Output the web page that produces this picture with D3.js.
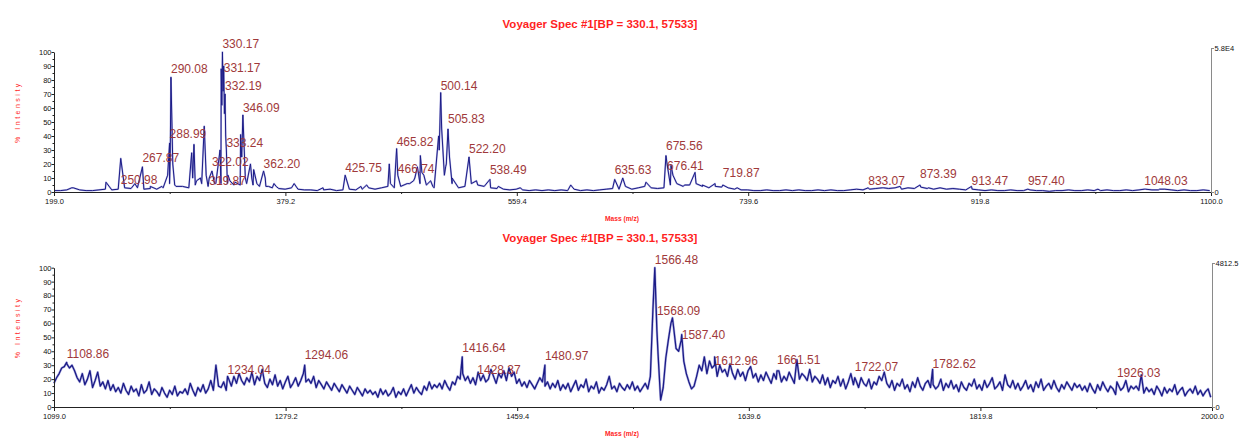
<!DOCTYPE html>
<html><head><meta charset="utf-8">
<script src="https://cdn.jsdelivr.net/npm/d3@7"></script>
<style>
body{margin:0;background:#fff}
svg{display:block}
text{font-family:"Liberation Sans",Arial,sans-serif}
</style>
</head><body>
<svg id="chart" width="1243" height="441"></svg>
<script>
// ---------- shared text ----------
const titleText = "Voyager Spec #1[BP = 330.1, 57533]";
const xAxisTitle = "Mass (m/z)";
const yAxisTitle = "% Intensity";
const yTicks = [0, 10, 20, 30, 40, 50, 60, 70, 80, 90, 100];

// ---------- spectrum 1 : m/z 199 - 1100 ----------
const xTicks1 = [199.0, 379.2, 559.4, 739.6, 919.8, 1100.0];
const baseStart1 = 199, baseStep1 = 5;
const base1 = [
  1,1,1.5,3,1.5,1,1,1.5,2,1.5,
  2,3,2.5,3,2,2.5,2,3,6,4,
  4,3,5,6,4,6,6,6,5,5,
  6,5,4,4,3,2.5,2,3,2,1.5,
  1.5,1,1.5,2,1,1.5,2,1.5,2,3,
  2,3,4,3,4,6,8,6,5,4,
  30,18,6,3,4,6,5,4,3,2.5,
  2,1.5,2,1.5,1,1.5,1,1.5,1,1.5,
  1,2,1,1.5,1,1.5,2,2.5,2,4,
  2,3,4,3,2.5,3,5,6,4,5,
  6,4,3,4,3.5,3,2,1.5,1.5,1,
  1,1.5,1,1,1.5,1,1.5,1,1,1.5,
  1,1.5,1,1,1.5,2,1.5,2,2.5,3,
  2.5,3,2,3,2.5,3.5,2.5,2,3,2,
  2.5,2,1.5,2,1.5,1,1.5,1,1,1.5,
  1,1,1.5,1,1,0.5,1,1,1.5,1,
  1,1.5,1,1,1.5,1,1,1.5,1,1.5,
  2,1.5,1.5,2,1.5,1,1.5,1,1,1.5,
  1
];
const peaks1 = [
  [212.8,3],[239.5,7],[262,6],[274,4],[283,4],[287.5,12],[289.5,25],[291.5,20],[293,5],
  [306.2,28],[307,10],[308,34],[310,8],[313,10],[316,47],[317.5,12],[325,6],
  [328.3,30],[329.2,88],[329.7,62],[330.7,72],[331.7,56],[332.7,40],
  [334.5,12],[336,8],[340,7],[344.3,41],[345.2,25],[348,10],[352,20],[353,10],[354.5,16],
  [357,6],[363.5,10],[366,4],[370.3,6],[372,4],[386,6],[408.5,3],[438,4],[442.5,5],
  [460.1,20],[461,6],[476,6],[480,10],[482,18],[484.3,26],[485.5,14],[487,12],[492.3,8],
  [495,3],[498.5,40],[500.9,45],[503,12],[504.5,20],[507,25],[509,10],[528,8],[545,4],
  [562,3],[601.4,5],[641.9,10],[660,7],[679.5,19],[681,12],[690,5],[698.2,14],[704,5],
  [713.8,6],[731,3],[845,3],[857.9,4],[880,3],[889,3],[1012,2],[1060,2]
];
const labelMz1 = [250.98,267.87,288.99,290.08,319.87,322.02,330.17,331.17,332.19,333.24,
  346.09,362.20,425.75,465.82,466.74,500.14,505.83,522.20,538.49,635.63,675.56,676.41,
  719.87,833.07,873.39,913.47,957.40,1048.03];
const labelPeak1 = [24,18,35,82,10,15,100,90,70,30,55,15,12,31,12,71,45,25,9,9,26,20,5,3,5,4,2,2];
const labelLevel1 = [6,21.6,38.6,85,5,18.6,103,86,73,32,57,17,14.5,33,13.8,73,49,27.6,12.9,
  12.9,30,15.7,10.5,5,9.8,5,5,5];
const rightMax1 = 58000, rightLabel1 = "5.8E4";

// ---------- spectrum 2 : m/z 1099 - 2000 ----------
const xTicks2 = [1099.0, 1279.2, 1459.4, 1639.6, 1819.8, 2000.0];
const baseStart2 = 1099, baseStep2 = 2;
const base2 = [
  17,21,24,28,29,31,28,30,26,21,18,24,16,20,26,14,19,25,15,18,13,19,12,16,11,
  14,10,17,12,9,15,11,13,8,16,10,12,18,9,13,11,8,14,10,7,12,9,15,8,11,
  10,13,9,17,12,8,14,11,16,10,13,19,12,30,15,14,18,12,20,15,22,17,24,19,16,
  21,18,25,16,22,19,27,17,14,20,16,23,15,19,13,18,22,14,17,21,15,19,24,18,20,
  17,22,14,19,16,13,18,15,12,17,14,11,16,13,10,15,12,9,14,11,8,13,10,12,9,
  11,7,13,9,12,8,10,14,7,11,9,13,8,12,16,10,14,11,9,15,12,18,13,16,14,
  17,13,19,15,12,18,16,22,20,24,19,22,17,21,16,25,19,23,18,20,27,22,17,24,21,
  26,19,28,22,25,17,20,15,18,14,19,16,13,17,21,18,15,18,13,17,14,19,12,16,13,
  17,11,15,19,12,16,14,20,11,15,13,18,10,14,12,16,22,13,15,11,17,14,12,16,13,
  18,12,15,11,14,17,13,22,70,85,38,5,14,35,48,60,58,42,40,48,33,24,18,13,15,
  22,30,26,36,24,33,28,36,22,30,25,27,22,31,24,20,27,22,25,19,26,29,21,24,18,
  23,19,25,21,17,24,20,26,18,22,19,25,21,17,34,20,24,22,19,27,18,22,20,17,23,
  16,21,14,19,17,22,15,20,13,18,24,16,19,14,21,17,15,20,13,18,16,22,19,25,17,
  14,19,12,17,15,20,13,16,11,18,14,21,15,12,17,19,14,16,13,15,20,12,17,14,19,
  13,16,11,18,14,12,17,15,20,13,16,12,19,14,17,21,13,15,18,12,23,16,14,19,13,
  17,12,15,19,13,16,11,18,14,20,12,15,17,13,19,14,11,16,13,18,15,12,17,14,16,
  12,15,11,17,13,10,16,12,18,14,11,15,13,9,16,12,14,19,11,15,13,15,12,23,10,
  14,11,13,9,15,12,8,14,10,13,11,16,9,12,14,8,11,13,10,15,9,12,8,11,13,
  7
];
const peaks2 = [[1580.2,64]];
const labelMz2 = [1108.86,1234.04,1294.06,1416.64,1428.37,1480.97,1566.48,1568.09,1587.40,
  1612.96,1661.51,1722.07,1782.62,1926.03];
const labelPeak2 = [32,22,30,36,22,30,100,55,52,30,26,21,27,18];
const labelLevel2 = [35,24,34.5,39.7,23.7,33.7,103,66,49,30,31,26,27.8,21.3];
const rightMax2 = 4812.5, rightLabel2 = "4812.5";

// ---------- drawing ----------
const svg = d3.select("#chart");
const RED = "#ff1f1f", LABEL = "#a0393a", TRACE = "#1b1b86", AXIS = "#222";
const SMALL_FONT = "'Liberation Sans Narrow','Liberation Sans',Arial";

function spectrumPoints(start, step, base, peaks, lMz, lPeak) {
  const pts = base.map((v, i) => [start + i * step, v]);
  peaks.forEach(p => pts.push(p));
  lMz.forEach((m, i) => pts.push([m, lPeak[i]]));
  return pts.sort((a, b) => a[0] - b[0]);
}

function panel(cfg) {
  const g = svg.append("g");
  const x = d3.scaleLinear().domain([cfg.ticks[0], cfg.ticks[cfg.ticks.length - 1]])
    .range([cfg.left, cfg.right]);
  const y = d3.scaleLinear().domain([0, 100]).range([cfg.bottom, cfg.top]);
  const yR = d3.scaleLinear().domain([0, cfg.rightMax]).range([cfg.bottom, cfg.rightTop]);

  // title
  g.append("text").attr("x", 600).attr("y", cfg.titleY).attr("text-anchor", "middle")
    .attr("font-size", 11.5).attr("font-weight", "bold").attr("fill", RED)
    .text(titleText);

  // trace: soft halo under a darker core line
  const pts = spectrumPoints(cfg.start, cfg.step, cfg.base, cfg.peaks, cfg.lMz, cfg.lPeak);
  const line = d3.line().x(d => x(d[0])).y(d => y(d[1]));
  g.append("path").datum(pts).attr("d", line).attr("fill", "none")
    .attr("stroke", "#5a5ac4").attr("stroke-width", cfg.halo).attr("stroke-opacity", 0.45)
    .attr("stroke-linejoin", "round");
  g.append("path").datum(pts).attr("d", line).attr("fill", "none")
    .attr("stroke", TRACE).attr("stroke-width", cfg.core).attr("stroke-linejoin", "round");

  // x axis with minor ticks between the labelled ones
  const minor = cfg.ticks.slice(0, -1).map((t, i) => (t + cfg.ticks[i + 1]) / 2);
  const xa = g.append("g").attr("transform", `translate(0,${cfg.bottom})`);
  xa.call(d3.axisBottom(x).tickValues(minor).tickSize(2).tickFormat(""))
    .call(a => a.select(".domain").remove());
  xa.append("g").call(d3.axisBottom(x).tickValues(cfg.ticks).tickSize(4).tickSizeOuter(0)
      .tickFormat(d3.format(".1f")))
    .call(a => a.select(".domain").attr("stroke", AXIS))
    .call(a => a.selectAll("text").attr("font-size", 7.5).attr("fill", "#111")
      .attr("y", 7).attr("font-family", SMALL_FONT));
  xa.selectAll("line").attr("stroke", AXIS);

  // left axis (relative intensity)
  const ya = g.append("g").attr("transform", `translate(${cfg.left},0)`);
  ya.call(d3.axisLeft(y).tickValues(yTicks.slice(0, -1).map(v => v + 5)).tickSize(1.5).tickFormat(""))
    .call(a => a.select(".domain").remove());
  ya.append("g").call(d3.axisLeft(y).tickValues(yTicks).tickSize(2.5).tickSizeOuter(0))
    .call(a => a.select(".domain").attr("stroke", AXIS))
    .call(a => a.selectAll("text").attr("font-size", 7.5).attr("fill", "#111").attr("x", -2.5)
      .attr("font-family", SMALL_FONT));
  ya.selectAll("line").attr("stroke", AXIS);

  // right axis (absolute counts)
  const ra = g.append("g").attr("transform", `translate(${cfg.right},0)`);
  ra.call(d3.axisRight(yR).tickValues([0, cfg.rightMax]).tickSize(3).tickSizeOuter(0)
      .tickFormat(d => d === 0 ? "0" : cfg.rightLabel))
    .call(a => a.select(".domain").attr("stroke", "#8a8a8a"))
    .call(a => a.selectAll("line").attr("stroke", "#8a8a8a"))
    .call(a => a.selectAll("text").attr("font-size", 7.5).attr("fill", "#111").attr("x", 3.5)
      .attr("font-family", SMALL_FONT));

  // peak labels
  g.selectAll("text.pk").data(cfg.lMz).enter().append("text").attr("class", "pk")
    .attr("x", d => x(d)).attr("y", (d, i) => y(cfg.lLevel[i]))
    .attr("font-size", 12).attr("fill", LABEL)
    .text(d => d.toFixed(2));

  // axis titles
  g.append("text").attr("x", 622).attr("y", cfg.bottom + 29).attr("text-anchor", "middle")
    .attr("font-size", 6.5).attr("font-weight", "bold").attr("fill", RED)
    .attr("textLength", 34).attr("lengthAdjust", "spacingAndGlyphs").text(xAxisTitle);
  g.append("text")
    .attr("transform", `translate(20,${(cfg.top + cfg.bottom) / 2 - 10}) rotate(-90)`)
    .attr("text-anchor", "middle").attr("font-size", 7).attr("fill", RED)
    .attr("letter-spacing", 2.5).text(yAxisTitle);
}

panel({ left: 54, right: 1211, top: 52, bottom: 192, rightTop: 48, titleY: 28,
  ticks: xTicks1, start: baseStart1, step: baseStep1, base: base1, peaks: peaks1,
  lMz: labelMz1, lPeak: labelPeak1, lLevel: labelLevel1,
  rightMax: rightMax1, rightLabel: rightLabel1, core: 1, halo: 1.8 });

panel({ left: 54, right: 1212, top: 267.7, bottom: 407, rightTop: 263, titleY: 242,
  ticks: xTicks2, start: baseStart2, step: baseStep2, base: base2, peaks: peaks2,
  lMz: labelMz2, lPeak: labelPeak2, lLevel: labelLevel2,
  rightMax: rightMax2, rightLabel: rightLabel2, core: 1.3, halo: 2.4 });
</script>
</body></html>
